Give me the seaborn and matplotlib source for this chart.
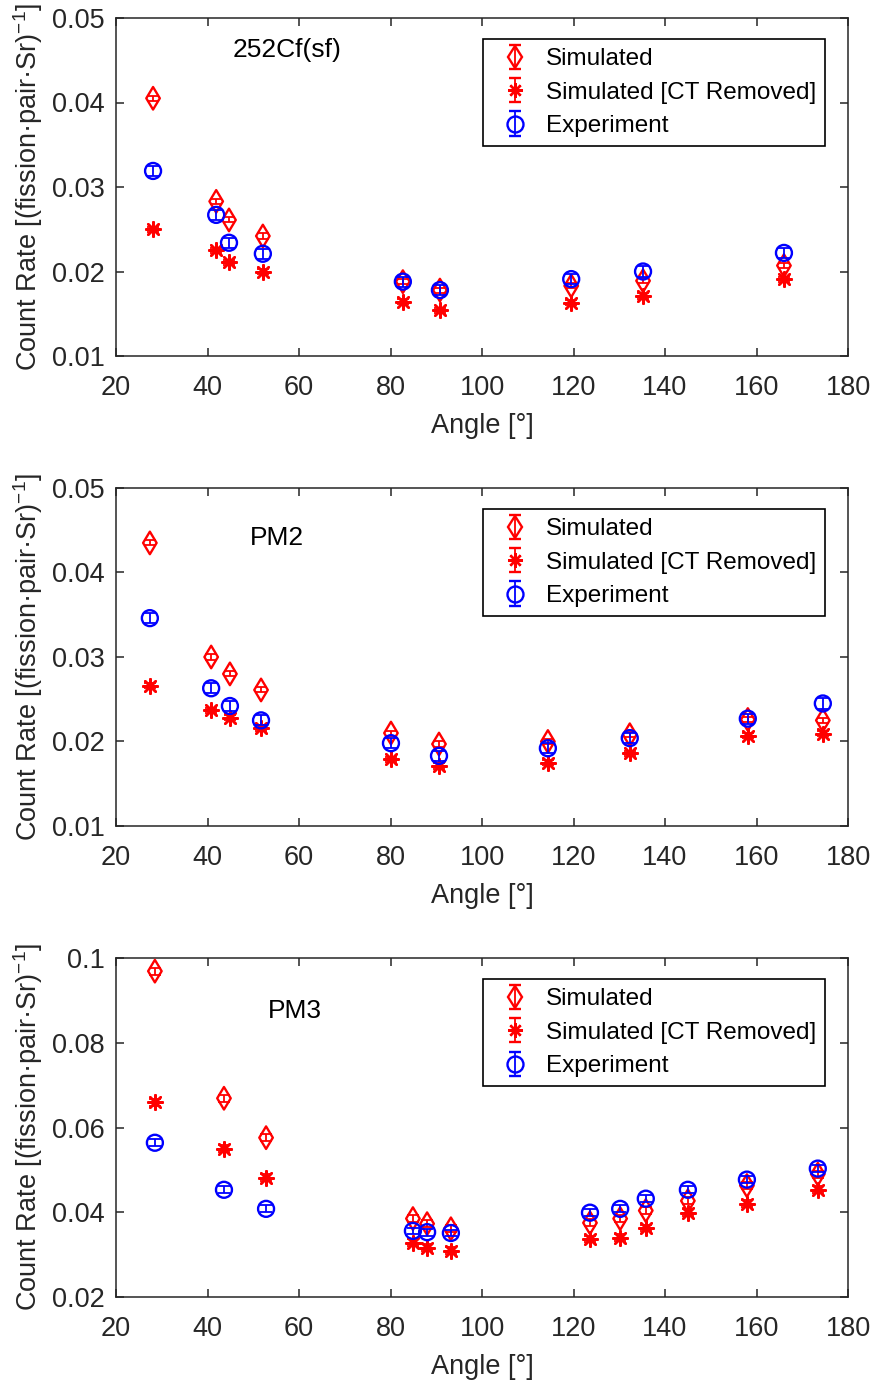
import numpy as np
import pandas as pd
import matplotlib
matplotlib.use("Agg")
import matplotlib.pyplot as plt
import seaborn as sns
from matplotlib.ticker import FuncFormatter

# ---------------- data ----------------
panel_names = ["252Cf(sf)", "PM2", "PM3"]

# Panel 1: 252Cf(sf)
angle_cf = [28.1, 41.9, 44.7, 52.1, 82.7, 90.8, 119.5, 135.2, 166.0]
sim_cf = [0.0405, 0.0283, 0.0261, 0.0242, 0.0188, 0.0178, 0.0183, 0.0189, 0.0207]
sim_ct_cf = [0.0250, 0.0225, 0.0211, 0.0200, 0.0164, 0.0154, 0.0163, 0.0171, 0.0191]
exp_cf = [0.0319, 0.0267, 0.0234, 0.0221, 0.0188, 0.0178, 0.0191, 0.0200, 0.0222]
sim_err_cf = [0.0003] * 9
sim_ct_err_cf = [0.0003] * 9
exp_err_cf = [0.0006] * 9

# Panel 2: PM2
angle_pm2 = [27.4, 40.8, 44.9, 51.7, 80.1, 90.6, 114.4, 132.3, 158.1, 174.5]
sim_pm2 = [0.0435, 0.0300, 0.0280, 0.0261, 0.0210, 0.0197, 0.0200, 0.0208, 0.0226, 0.0225]
sim_ct_pm2 = [0.0266, 0.0237, 0.0228, 0.0216, 0.0179, 0.0171, 0.0175, 0.0186, 0.0207, 0.0209]
exp_pm2 = [0.0346, 0.0263, 0.0242, 0.0225, 0.0198, 0.0183, 0.0192, 0.0204, 0.0227, 0.0245]
sim_err_pm2 = [0.0003] * 10
sim_ct_err_pm2 = [0.0003] * 10
exp_err_pm2 = [0.0006] * 10

# Panel 3: PM3
angle_pm3 = [28.5, 43.6, 52.8, 84.9, 88.0, 93.2, 123.6, 130.2, 135.8, 145.0, 157.9, 173.4]
sim_pm3 = [0.0969, 0.0669, 0.0576, 0.0385, 0.0373, 0.0361, 0.0375, 0.0385, 0.0404, 0.0427, 0.0463, 0.0490]
sim_ct_pm3 = [0.0659, 0.0550, 0.0482, 0.0328, 0.0316, 0.0309, 0.0337, 0.0340, 0.0363, 0.0399, 0.0420, 0.0453]
exp_pm3 = [0.0564, 0.0453, 0.0408, 0.0356, 0.0353, 0.0351, 0.0399, 0.0408, 0.0432, 0.0453, 0.0477, 0.0503]
sim_err_pm3 = [0.0008] * 12
sim_ct_err_pm3 = [0.0008] * 12
exp_err_pm3 = [0.0008] * 12

x_ticks = [20, 40, 60, 80, 100, 120, 140, 160, 180]
y_ticks_12 = [0.01, 0.02, 0.03, 0.04, 0.05]
y_ticks_3 = [0.02, 0.04, 0.06, 0.08, 0.1]

series_labels = ["Simulated", "Simulated [CT Removed]", "Experiment"]

panels = [
    dict(name=panel_names[0], angle=angle_cf, sim=sim_cf, ct=sim_ct_cf, exp=exp_cf,
         sim_e=sim_err_cf, ct_e=sim_ct_err_cf, exp_e=exp_err_cf, yticks=y_ticks_12),
    dict(name=panel_names[1], angle=angle_pm2, sim=sim_pm2, ct=sim_ct_pm2, exp=exp_pm2,
         sim_e=sim_err_pm2, ct_e=sim_ct_err_pm2, exp_e=exp_err_pm2, yticks=y_ticks_12),
    dict(name=panel_names[2], angle=angle_pm3, sim=sim_pm3, ct=sim_ct_pm3, exp=exp_pm3,
         sim_e=sim_err_pm3, ct_e=sim_ct_err_pm3, exp_e=exp_err_pm3, yticks=y_ticks_3),
]
name_pos = [(0.2336, 0.905), (0.220, 0.852), (0.2445, 0.845)]

# ---------------- style ----------------
sns.set_theme(style="white")
plt.rcParams["font.family"] = ["Liberation Sans", "DejaVu Sans"]
plt.rcParams["mathtext.fontset"] = "custom"
plt.rcParams["mathtext.rm"] = "Liberation Sans"
plt.rcParams["mathtext.it"] = "Liberation Sans:italic"
plt.rcParams["mathtext.default"] = "regular"

AX_COL = "#262626"
RED = "#FF0000"
BLUE = "#0000FF"
ASTER = (8, 2, 0)

FS = 19.5
LEG_FS = 17.5
fig = plt.figure(figsize=(8.74, 13.82), dpi=100)

# hidden axes holding legend proxy artists (clipped out of view)
proxy_ax = fig.add_axes([0, 0, 0.001, 0.001])
proxy_ax.set_axis_off()
eb_kw = dict(elinewidth=1.3, capsize=4.5, capthick=1.3, ls="none")
px_sim = proxy_ax.errorbar([0], [0], yerr=[1], fmt="d", ms=11.5, mfc="none", mec=RED,
                           mew=1.7, color=RED, ecolor=RED, **eb_kw)
px_ct = proxy_ax.errorbar([0], [0], yerr=[1], marker=ASTER, ms=10.5, mfc=RED, mec=RED,
                          mew=1.7, color=RED, ecolor=RED, **eb_kw)
px_exp = proxy_ax.errorbar([0], [0], yerr=[1], fmt="o", ms=11.5, mfc="none", mec=BLUE,
                           mew=1.7, color=BLUE, ecolor=BLUE, **eb_kw)
proxy_ax.set_xlim(100, 101)
proxy_ax.set_ylim(100, 101)

left, width = 116 / 874, (848 - 116) / 874
rects = [(18, 356), (488, 826), (958, 1297)]

for p, (top_px, bot_px), npos in zip(panels, rects, name_pos):
    ax = fig.add_axes([left, 1 - bot_px / 1382, width, (bot_px - top_px) / 1382])
    ax.set_facecolor("white")

    df = pd.DataFrame({"angle": p["angle"], "sim": p["sim"], "ct": p["ct"], "exp": p["exp"]})

    # error bars
    ax.errorbar(df["angle"], df["sim"], yerr=p["sim_e"], fmt="none", ecolor=RED,
                elinewidth=1.3, capsize=4.5, capthick=1.3, zorder=2)
    ax.errorbar(df["angle"], df["ct"], yerr=p["ct_e"], fmt="none", ecolor=RED,
                elinewidth=1.3, capsize=4.5, capthick=1.3, zorder=2)
    ax.errorbar(df["angle"], df["exp"], yerr=p["exp_e"], fmt="none", ecolor=BLUE,
                elinewidth=1.3, capsize=4.5, capthick=1.3, zorder=4)

    # markers via seaborn
    sns.scatterplot(data=df, x="angle", y="sim", ax=ax, marker="d", s=132,
                    color=RED, facecolor="none", edgecolor=RED, linewidth=1.7, zorder=3)
    sns.scatterplot(data=df, x="angle", y="ct", ax=ax, marker=ASTER, s=110,
                    color=RED, edgecolor=RED, linewidth=1.8, zorder=3)
    sns.scatterplot(data=df, x="angle", y="exp", ax=ax, marker="o", s=132,
                    color=BLUE, facecolor="none", edgecolor=BLUE, linewidth=1.7, zorder=5)

    ax.set_xlim(20, 180)
    ax.set_ylim(p["yticks"][0], p["yticks"][-1])
    ax.set_xticks(x_ticks)
    ax.set_yticks(p["yticks"])
    ax.yaxis.set_major_formatter(FuncFormatter(lambda v, pos: f"{v:g}"))

    ax.tick_params(direction="in", length=6, width=1.1, colors=AX_COL, labelsize=FS,
                   top=True, right=True, left=True, bottom=True)
    ax.tick_params(axis="x", pad=13.5)
    ax.tick_params(axis="y", pad=8)
    for sp in ax.spines.values():
        sp.set_color(AX_COL)
        sp.set_linewidth(1.1)
        sp.set_visible(True)

    ax.set_xlabel("Angle [°]", fontsize=FS, color=AX_COL, labelpad=9)
    ax.set_ylabel("Count Rate [(fission·pair·Sr)$^{-1}$]", fontsize=FS, color=AX_COL, labelpad=5)

    ax.text(npos[0], npos[1], p["name"], transform=ax.transAxes, ha="center", va="center",
            fontsize=19, color="black")

    leg = ax.legend([px_sim, px_ct, px_exp], series_labels,
                    loc="upper right", bbox_to_anchor=(0.9686, 0.9379), borderaxespad=0,
                    fontsize=LEG_FS, frameon=True, fancybox=False, framealpha=1,
                    edgecolor="black", handlelength=1.9, handletextpad=0.3,
                    borderpad=0.38, labelspacing=0.47, numpoints=1)
    leg.get_frame().set_linewidth(1.2)
    for t in leg.get_texts():
        t.set_color("black")

fig.savefig("out.png", dpi=100, facecolor="white")
